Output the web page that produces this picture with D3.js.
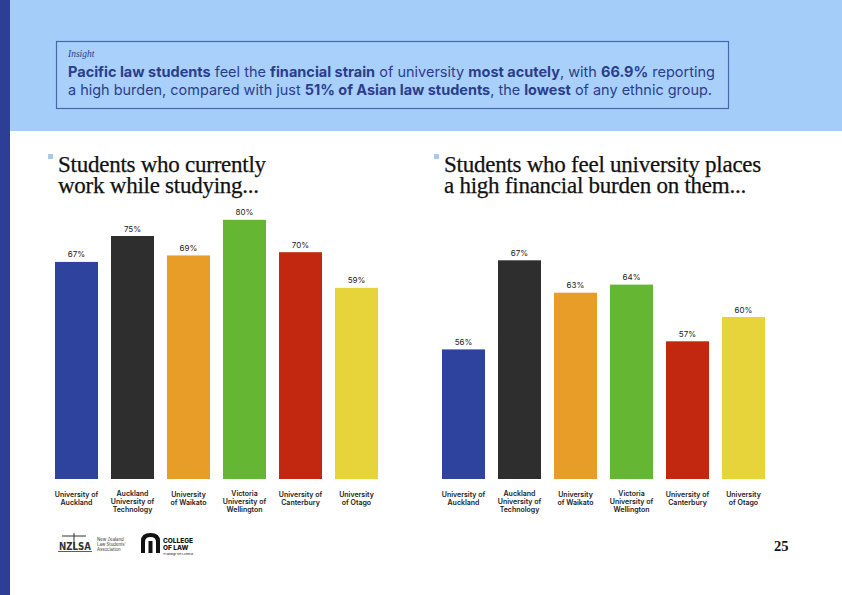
<!DOCTYPE html>
<html><head><meta charset="utf-8">
<script src="https://cdn.jsdelivr.net/npm/d3@7"></script>
<style>html,body{margin:0;padding:0;background:#fff}svg{display:block}</style>
</head><body>
<svg id="c" width="842" height="595"></svg>
<script>
const categories = [
  ["University of","Auckland"],
  ["Auckland","University of","Technology"],
  ["University","of Waikato"],
  ["Victoria","University of","Wellington"],
  ["University of","Canterbury"],
  ["University","of Otago"]
];
const categoryKeys = ["Auckland","AUT","Waikato","Victoria","Canterbury","Otago"];
const colors = ["#2e439e","#2e2e2e","#e79d28","#65b733","#c1280f","#e6d43a"];
const workValues = [67,75,69,80,70,59];
const burdenValues = [56,67,63,64,57,60];
const leftTitle = ["Students who currently","work while studying..."];
const rightTitle = ["Students who feel university places","a high financial burden on them..."];

const svg = d3.select("#c");
svg.append("rect").attr("width",842).attr("height",595).attr("fill","#fff");
svg.append("rect").attr("x",10).attr("y",0).attr("width",832).attr("height",131).attr("fill","#a5cdfa");
svg.append("rect").attr("x",0).attr("y",0).attr("width",10).attr("height",595).attr("fill","#2d3e96");

// insight box
svg.append("rect").attr("x",56.5).attr("y",41.5).attr("width",672).attr("height",67)
  .attr("fill","#a9d0fb").attr("stroke","#4869a9").attr("stroke-width",1.2);
svg.append("text").attr("x",68).attr("y",57).attr("font-family","Liberation Serif")
  .attr("font-style","italic").attr("font-size",9.5).attr("fill","#2b3d8a").text("Insight");
const lines = [
  [["Pacific law students",1],[" feel the ",0],["financial strain",1],[" of university ",0],["most acutely",1],[", with ",0],["66.9%",1],[" reporting",0]],
  [["a high burden, compared with just ",0],["51% of Asian law students",1],[", the ",0],["lowest",1],[" of any ethnic group.",0]]
];
const lineW = [647,644];
lines.forEach((ln,i)=>{
  const t = svg.append("text").attr("x",68).attr("y",77+i*17.5)
    .attr("font-family","Inter").attr("font-size",14.5).attr("fill","#2b3d8a")
    .attr("textLength",lineW[i]).attr("lengthAdjust","spacingAndGlyphs");
  ln.forEach(([s,b])=>t.append("tspan").attr("font-weight",b?700:400).text(s));
});

function chart(x0, x1, values, domain, title, titleX){
  const x = d3.scaleBand().domain(categoryKeys).range([x0,x1]).paddingInner(0.232).paddingOuter(0);
  const y = d3.scaleLinear().domain(domain).range([479,155]);
  const g = svg.append("g");
  // title
  g.append("rect").attr("x",titleX-10).attr("y",154).attr("width",5).attr("height",5).attr("fill","#a9c8ea");
  const tt = g.append("text").attr("font-family","Liberation Serif").attr("font-size",23)
    .attr("letter-spacing",-0.25).attr("fill","#111").attr("stroke","#111").attr("stroke-width",0.25);
  title.forEach((s,i)=>tt.append("tspan").attr("x",titleX).attr("y",171.5+i*21.5).text(s));
  g.selectAll("rect.bar").data(values).enter().append("rect").attr("class","bar")
    .attr("x",(d,i)=>x(categoryKeys[i])).attr("width",x.bandwidth())
    .attr("y",d=>y(d)).attr("height",d=>y(domain[0])-y(d))
    .attr("fill",(d,i)=>colors[i]);
  g.selectAll("text.val").data(values).enter().append("text").attr("class","val")
    .attr("x",(d,i)=>x(categoryKeys[i])+x.bandwidth()/2).attr("y",d=>y(d)-4.5)
    .attr("text-anchor","middle").attr("font-family","Inter").attr("font-size",8)
    .attr("fill","#222").text(d=>d+"%");
  categories.forEach((c,i)=>{
    const t = g.append("text").attr("text-anchor","middle").attr("font-family","Inter")
      .attr("font-weight",600).attr("font-size",7).attr("fill","#1a1a1a");
    c.forEach((s,j)=>t.append("tspan").attr("x",x(categoryKeys[i])+x.bandwidth()/2)
      .attr("y",(c.length===3?495.5:496.5)+j*8).text(s));
  });
}
chart(55,378,workValues,[0,100],leftTitle,58);
chart(442,765,burdenValues,[40,80],rightTitle,444);

// logos (approximate)
const lg = svg.append("g");
lg.append("line").attr("x1",74).attr("x2",74).attr("y1",533).attr("y2",549).attr("stroke","#333").attr("stroke-width",1);
lg.append("line").attr("x1",62).attr("x2",86).attr("y1",536).attr("y2",536).attr("stroke","#333").attr("stroke-width",1);
lg.append("text").attr("x",59).attr("y",550).attr("font-family","DejaVu Sans").attr("font-weight",700)
  .attr("font-size",10).attr("fill","#333").attr("textLength",32).attr("lengthAdjust","spacingAndGlyphs").text("NZLSA");
lg.append("line").attr("x1",58).attr("x2",92).attr("y1",551.5).attr("y2",551.5).attr("stroke","#333").attr("stroke-width",0.8);
const nz = lg.append("text").attr("font-family","Inter").attr("font-size",4.3).attr("fill","#333");
["New Zealand","Law Students'","Association"].forEach((s,i)=>nz.append("tspan").attr("x",97).attr("y",541+i*4.8).text(s));
lg.append("path").attr("d","M141,553 L141,541 Q141,533 150.5,533 Q160,533 160,541 L160,553 L156,553 L156,542 Q156,537 150.5,537 Q145,537 145,542 L145,553 Z M148.5,553 L148.5,541 L152.5,541 L152.5,553 Z")
  .attr("fill","#111");
const col = lg.append("text").attr("font-family","Inter").attr("font-weight",800)
  .attr("font-size",6.5).attr("fill","#111");
col.append("tspan").attr("x",163).attr("y",542.5).text("COLLEGE");
col.append("tspan").attr("x",163).attr("y",550).text("OF LAW");
col.append("tspan").attr("x",163).attr("y",554.5).attr("font-size",2.2).attr("font-weight",400).text("Te Wāhanga Ture o Aotearoa");

svg.append("text").attr("x",774).attr("y",551).attr("font-family","Liberation Serif").attr("font-weight",700)
  .attr("font-size",14.5).attr("fill","#111").text("25");
</script>
</body></html>
